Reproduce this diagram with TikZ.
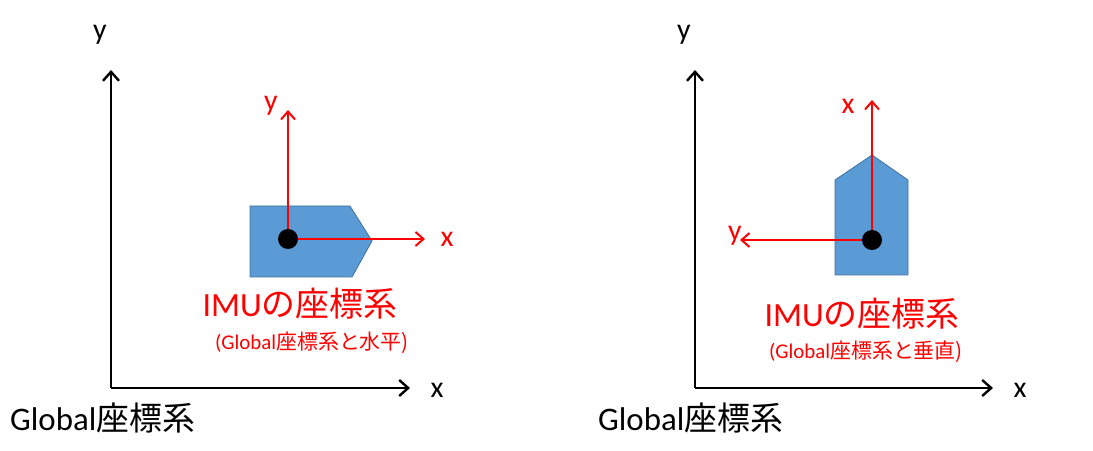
\documentclass[tikz,border=0pt]{standalone}
\usepackage{fontspec}
\setmainfont{Carlito}
\newfontfamily\cjk{Noto Sans CJK JP}
\usetikzlibrary{arrows.meta}
\definecolor{boxblue}{RGB}{91,155,213}
\definecolor{boxedge}{RGB}{65,113,156}
\tikzset{
  axis/.style={line width=2.4bp, black, -{Straight Barb[length=9bp,width=16bp]}},
  imuaxis/.style={line width=2bp, red, -{Straight Barb[length=8bp,width=14bp]}},
  imubody/.style={fill=boxblue, draw=boxedge, line width=0.8bp},
  lbl/.style={font=\fontsize{30}{30}\selectfont, inner sep=0pt},
  imulbl/.style={font=\fontsize{30}{30}\selectfont, red, inner sep=0pt},
  title/.style={font=\fontsize{34}{34}\selectfont, red, inner sep=0pt},
  sub/.style={font=\fontsize{21}{21}\selectfont, red, inner sep=0pt},
  glbl/.style={font=\fontsize{33}{33}\selectfont, inner sep=0pt}
}
\begin{document}
\begin{tikzpicture}[x=1bp,y=-1bp]
\useasboundingbox (0,0) rectangle (1093,451);
% left: IMU parallel to global
\coordinate (o1) at (111,388);
\coordinate (gx1) at (410,388);
\coordinate (gy1) at (111,70);
\draw [axis] (o1) -- (gx1);
\draw [axis] (o1) -- (gy1);
\node [lbl] at (100,35) {y};
\node [lbl] at (437,390) {x};
\node [glbl, anchor=west] at (10,418) {Global\cjk{座標系}};
\draw [imubody] (250,206) -- (350,206) -- (372,241) -- (352,277) -- (250,277) -- cycle;
\coordinate (c1) at (288,239);
\coordinate (ix1) at (425,239);
\coordinate (iy1) at (288,110);
\draw [imuaxis] (c1) -- (ix1);
\draw [imuaxis] (c1) -- (iy1);
\fill (c1) circle (10);
\node [imulbl] at (271,106) {y};
\node [imulbl] at (447,239) {x};
\node [title] (t1) at (300,304) {IMU\cjk{の座標系}};
\node [sub] (s1) at (312,343) {(Global\cjk{座標系と水平})};
% right: IMU perpendicular to global
\coordinate (o2) at (695,388);
\coordinate (gx2) at (993,388);
\coordinate (gy2) at (695,70);
\draw [axis] (o2) -- (gx2);
\draw [axis] (o2) -- (gy2);
\node [lbl] at (684,35) {y};
\node [lbl] at (1020,390) {x};
\node [glbl, anchor=west] at (598,418) {Global\cjk{座標系}};
\draw [imubody] (835,180) -- (872,155) -- (908,180) -- (908,275) -- (835,275) -- cycle;
\coordinate (c2) at (872,240);
\coordinate (ix2) at (872,100);
\coordinate (iy2) at (740,240);
\draw [imuaxis] (c2) -- (ix2);
\draw [imuaxis] (c2) -- (iy2);
\fill (c2) circle (10);
\node [imulbl] at (848,106) {x};
\node [imulbl] at (735,236) {y};
\node [title] (t2) at (862,314) {IMU\cjk{の座標系}};
\node [sub] (s2) at (866,352) {(Global\cjk{座標系と垂直})};
\end{tikzpicture}
\end{document}
